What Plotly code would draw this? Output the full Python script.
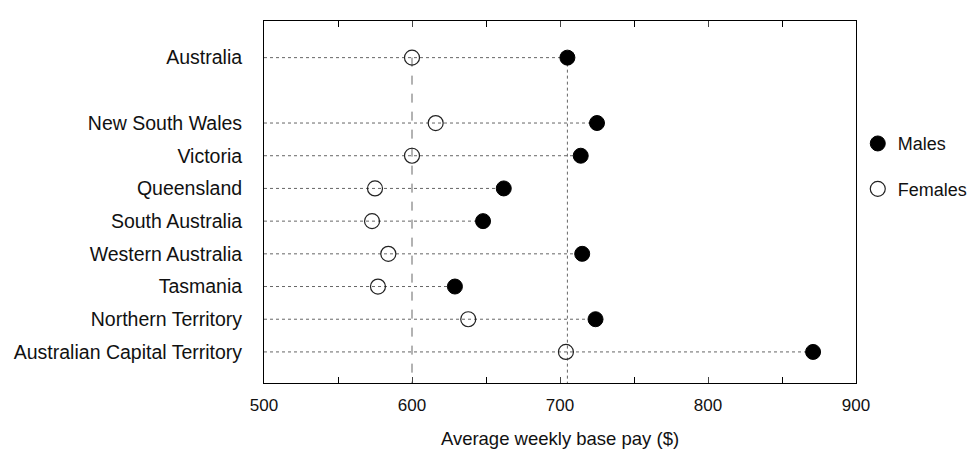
import plotly.graph_objects as go

regions = ["Australia", "New South Wales", "Victoria", "Queensland", "South Australia",
           "Western Australia", "Tasmania", "Northern Territory", "Australian Capital Territory"]
row_pos = [9, 7, 6, 5, 4, 3, 2, 1, 0]
males = [705, 725, 714, 662, 648, 715, 629, 724, 871]
females = [600, 616, 600, 575, 573, 584, 577, 638, 704]
x_ticks = [500, 600, 700, 800, 900]

FONT = "Liberation Sans, Arial, sans-serif"
fig = go.Figure()

# dotted guide lines from axis to the furthest point in each row
for y, m, f in zip(row_pos, males, females):
    fig.add_trace(go.Scatter(x=[500, max(m, f)], y=[y, y], mode="lines",
                             line=dict(color="#666", width=1, dash="dot"),
                             showlegend=False, hoverinfo="skip"))

# vertical reference lines at Australian averages
aus_y = row_pos[0]
for v, d in [(females[0], "dash"), (males[0], "dot")]:
    fig.add_trace(go.Scatter(x=[v, v], y=[aus_y, -0.95], mode="lines",
                             line=dict(color="#666", width=1, dash=d),
                             showlegend=False, hoverinfo="skip"))

fig.add_trace(go.Scatter(x=males, y=row_pos, mode="markers", name="Males", legendgroup="m",
                         marker=dict(symbol="circle", size=15, color="black",
                                     line=dict(color="black", width=1))))
fig.add_trace(go.Scatter(x=females, y=row_pos, mode="markers", name="Females", legendgroup="f",
                         marker=dict(symbol="circle-open", size=15, color="#222",
                                     line=dict(width=1.2))))

fig.update_layout(
    width=977, height=452,
    margin=dict(l=256, r=101, t=13, b=77),
    paper_bgcolor="white", plot_bgcolor="white",
    font=dict(family=FONT, size=18, color="#111"),
    legend=dict(x=1.003, y=0.712, xanchor="left", yanchor="top",
                font=dict(size=18), tracegroupgap=19, valign="top",
                itemwidth=30, bgcolor="rgba(0,0,0,0)"),
    xaxis=dict(range=[500, 900], tickvals=x_ticks, ticks="inside", ticklen=6,
               showline=True, linecolor="black", linewidth=1, mirror="ticks",
               showgrid=False, zeroline=False, tickfont=dict(size=17), automargin=False,
               ticklabelstandoff=7,
               minor=dict(dtick=50, ticks="inside", ticklen=6, tickcolor="black"),
               title=dict(text="Average weekly base pay ($)", font=dict(size=18.5), standoff=17)),
    yaxis=dict(range=[-0.95, 10.12], tickvals=row_pos, ticktext=regions, ticks="",
               showline=True, linecolor="black", linewidth=1, mirror=True, automargin=False,
               showgrid=False, zeroline=False, tickfont=dict(size=19.5), ticklabelstandoff=17),
)

fig.write_html("out.html")
